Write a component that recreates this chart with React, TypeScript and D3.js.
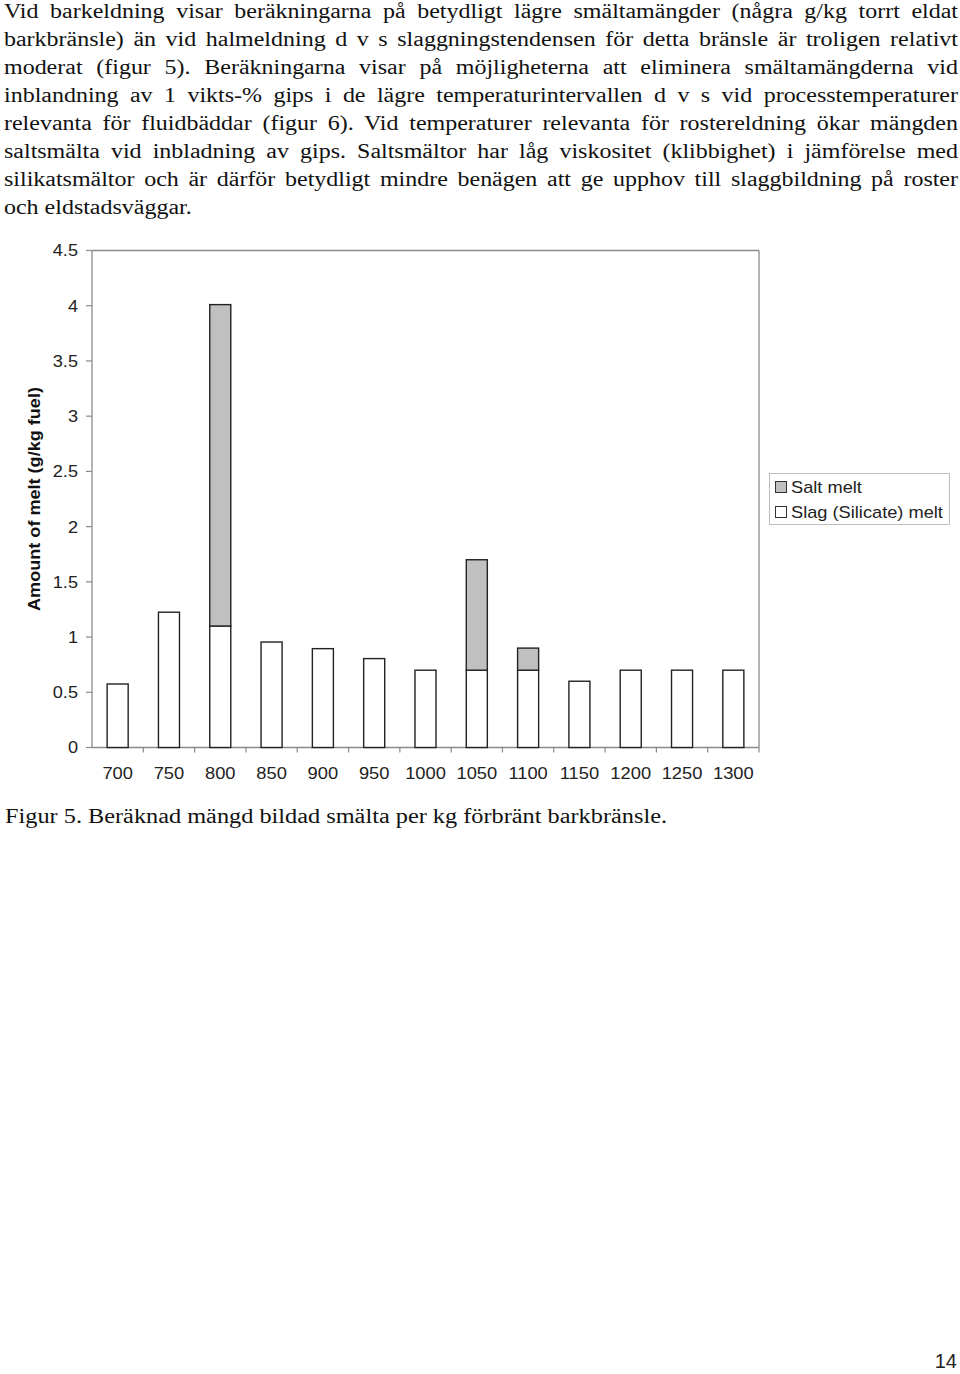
import React, { useEffect, useRef } from "react";
import * as d3 from "d3";

const temperatures = ["700", "750", "800", "850", "900", "950", "1000", "1050", "1100", "1150", "1200", "1250", "1300"];
const slagMelt = [0.575, 1.225, 1.1, 0.955, 0.895, 0.805, 0.7, 0.7, 0.7, 0.6, 0.7, 0.7, 0.7];
const saltMelt = [0, 0, 2.91, 0, 0, 0, 0, 1.0, 0.2, 0, 0, 0, 0];
const yTicks = [0, 0.5, 1, 1.5, 2, 2.5, 3, 3.5, 4, 4.5];
const legendLabels = ["Salt melt", "Slag (Silicate) melt"];

const paragraphLines = [
  "Vid barkeldning visar beräkningarna på betydligt lägre smältamängder (några g/kg torrt eldat",
  "barkbränsle) än vid halmeldning d v s slaggningstendensen för detta bränsle är troligen relativt",
  "moderat (figur 5). Beräkningarna visar på möjligheterna att eliminera smältamängderna vid",
  "inblandning av 1 vikts-% gips i de lägre temperaturintervallen d v s vid processtemperaturer",
  "relevanta för fluidbäddar (figur 6). Vid temperaturer relevanta för rostereldning ökar mängden",
  "saltsmälta vid inbladning av gips. Saltsmältor har låg viskositet (klibbighet) i jämförelse med",
  "silikatsmältor och är därför betydligt mindre benägen att ge upphov till slaggbildning på roster",
  "och eldstadsväggar.",
];
const caption = "Figur 5. Beräknad mängd bildad smälta per kg förbränt barkbränsle.";

const W = 960;
const H = 1374;
const plot = { left: 92, right: 759, top: 250.5, bottom: 747.5 };
const textLeft = 4;
const textRight = 958;
const bodySX = 1.17;

export default function App() {
  const textRef = useRef<SVGGElement>(null);

  const x = d3.scaleBand<string>().domain(temperatures).range([plot.left, plot.right]).paddingInner(0).paddingOuter(0);
  const y = d3.scaleLinear().domain([0, 4.5]).range([plot.bottom, plot.top]);
  const barW = x.bandwidth() * 0.41;

  useEffect(() => {
    const g = textRef.current;
    if (!g) return;
    const nodes = g.querySelectorAll<SVGTextElement>("text.just");
    const target = (textRight - textLeft) / bodySX;
    nodes.forEach((node) => {
      node.setAttribute("word-spacing", "0");
      const w = node.getComputedTextLength();
      const content = node.textContent || "";
      const spaces = (content.match(/ /g) || []).length;
      if (spaces > 0) {
        const extra = (target - w) / spaces;
        node.setAttribute("word-spacing", String(extra));
      }
    });
  }, []);

  const serif = "'Liberation Serif', 'Times New Roman', serif";
  const sans = "'Liberation Sans', Arial, sans-serif";
  const axisColor = "#8a8a8a";
  const barStroke = "#222";

  return (
    <svg width={W} height={H} style={{ position: "absolute", left: 0, top: 0, background: "#fff" }}>
      <rect x={0} y={0} width={W} height={H} fill="#fff" />
      <g ref={textRef} fontFamily={serif} fontSize={20.5} fill="#111">
        {paragraphLines.map((line, i) => (
          <text
            key={i}
            className={i < paragraphLines.length - 1 ? "just" : ""}
            transform={`translate(${textLeft}, ${17.5 + i * 28}) scale(${bodySX}, 1)`}
          >
            {line}
          </text>
        ))}
      </g>

      {/* plot frame */}
      <line x1={plot.left} x2={plot.right} y1={plot.top} y2={plot.top} stroke={axisColor} strokeWidth={1.3} />
      <line x1={plot.right} x2={plot.right} y1={plot.top} y2={plot.bottom} stroke={axisColor} strokeWidth={1.3} />
      <line x1={plot.left} x2={plot.left} y1={plot.top} y2={plot.bottom} stroke={axisColor} strokeWidth={1.3} />
      <line x1={plot.left} x2={plot.right} y1={plot.bottom} y2={plot.bottom} stroke={axisColor} strokeWidth={1.3} />

      {/* y ticks */}
      {yTicks.map((t) => (
        <g key={t}>
          <line x1={plot.left - 6} x2={plot.left} y1={y(t)} y2={y(t)} stroke={axisColor} strokeWidth={1.2} />
          <text
            transform={`translate(78, ${y(t)}) scale(1.1, 1)`}
            dy="0.36em"
            textAnchor="end"
            fontFamily={sans}
            fontSize={16.5}
            fill="#222"
          >
            {String(t)}
          </text>
        </g>
      ))}

      {/* x ticks at band boundaries */}
      {temperatures.map((c, i) => {
        const bx = x(c)!;
        return (
          <g key={c}>
            {i > 0 && (
              <line x1={bx} x2={bx} y1={plot.bottom} y2={plot.bottom + 5} stroke={axisColor} strokeWidth={1.2} />
            )}
            <text
              transform={`translate(${bx + x.bandwidth() / 2}, 779) scale(1.11, 1)`}
              textAnchor="middle"
              fontFamily={sans}
              fontSize={16.5}
              fill="#222"
            >
              {c}
            </text>
          </g>
        );
      })}
      <line x1={plot.right} x2={plot.right} y1={plot.bottom} y2={plot.bottom + 5} stroke={axisColor} strokeWidth={1.2} />

      {/* bars */}
      {temperatures.map((c, i) => {
        const cx = x(c)! + x.bandwidth() / 2;
        const s = slagMelt[i];
        const t = saltMelt[i];
        return (
          <g key={c}>
            <rect x={cx - barW / 2} y={y(s)} width={barW} height={y(0) - y(s)} fill="#fff" stroke={barStroke} strokeWidth={1.4} />
            {t > 0 && (
              <rect x={cx - barW / 2} y={y(s + t)} width={barW} height={y(s) - y(s + t)} fill="#c0c0c0" stroke={barStroke} strokeWidth={1.4} />
            )}
          </g>
        );
      })}

      {/* y axis title */}
      <text
        transform={`translate(40, 499) rotate(-90) scale(1.13, 1)`}
        textAnchor="middle"
        fontFamily={sans}
        fontWeight="bold"
        fontSize={16}
        fill="#111"
      >
        Amount of melt (g/kg fuel)
      </text>

      {/* legend */}
      <rect x={769.5} y={473.5} width={180} height={51} fill="#fff" stroke="#bdbdbd" strokeWidth={1} />
      {legendLabels.map((l, i) => (
        <g key={l}>
          <rect x={775.5} y={481.5 + i * 25} width={11} height={11} fill={i === 0 ? "#c0c0c0" : "#fff"} stroke="#333" strokeWidth={1} />
          <text
            transform={`translate(791, ${493 + i * 25}) scale(1.14, 1)`}
            fontFamily={sans}
            fontSize={16}
            fill="#222"
          >
            {l}
          </text>
        </g>
      ))}

      {/* caption */}
      <text x={5} y={823} fontFamily={serif} fontSize={20.5} fill="#111" textLength={662} lengthAdjust="spacingAndGlyphs">
        {caption}
      </text>

      {/* page number */}
      <text x={957} y={1368} textAnchor="end" fontFamily={sans} fontSize={20} fill="#222">
        14
      </text>
    </svg>
  );
}
